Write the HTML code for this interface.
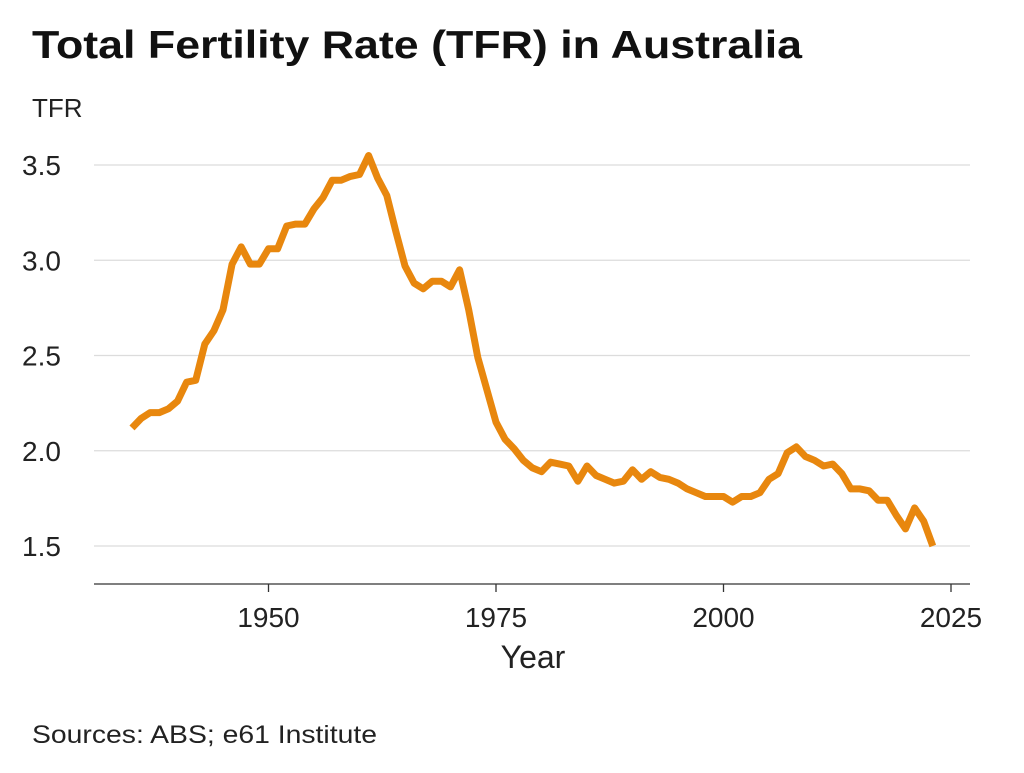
<!DOCTYPE html>
<html><head><meta charset="utf-8"><style>
body{margin:0;background:#fff;width:1024px;height:768px;overflow:hidden;font-family:"Liberation Sans","DejaVu Sans",sans-serif;}
</style></head><body>
<svg id="chart" width="1024" height="768" xmlns="http://www.w3.org/2000/svg" font-family="Liberation Sans, DejaVu Sans, sans-serif">
<text x="32" y="58" font-size="39" font-weight="bold" fill="#111" textLength="770" lengthAdjust="spacingAndGlyphs">Total Fertility Rate (TFR) in Australia</text>
<text x="32" y="117" font-size="26" fill="#222">TFR</text>
<text x="533" y="668" font-size="32" fill="#222" text-anchor="middle">Year</text>
<text x="32" y="743" font-size="25" fill="#222" textLength="345" lengthAdjust="spacingAndGlyphs">Sources: ABS; e61 Institute</text>
<g id="grid"></g><g id="axes"></g><g id="series"></g>
</svg>
<script>
const years=[];for(let y=1935;y<=2023;y++)years.push(y);
const tfr=[2.12,2.17,2.20,2.20,2.22,2.26,2.36,2.37,2.56,2.63,2.74,2.98,3.07,2.98,2.98,3.06,3.06,3.18,3.19,3.19,3.27,3.33,3.42,3.42,3.44,3.45,3.55,3.43,3.34,3.15,2.97,2.88,2.85,2.89,2.89,2.86,2.95,2.74,2.49,2.32,2.15,2.06,2.01,1.95,1.91,1.89,1.94,1.93,1.92,1.84,1.92,1.87,1.85,1.83,1.84,1.90,1.85,1.89,1.86,1.85,1.83,1.80,1.78,1.76,1.76,1.76,1.73,1.76,1.76,1.78,1.85,1.88,1.99,2.02,1.97,1.95,1.92,1.93,1.88,1.80,1.80,1.79,1.74,1.74,1.66,1.59,1.70,1.63,1.50];
const yTicks=[1.5,2.0,2.5,3.0,3.5];
const yTickLabels=["1.5","2.0","2.5","3.0","3.5"];
const xTicks=[1950,1975,2000,2025];
const xTickLabels=["1950","1975","2000","2025"];
const NS="http://www.w3.org/2000/svg";
const xs=y=>268.5+(y-1950)*9.1;
const ys=v=>546-(v-1.5)*190.5;
function mk(tag,attrs,parent){const e=document.createElementNS(NS,tag);for(const k in attrs)e.setAttribute(k,attrs[k]);document.getElementById(parent).appendChild(e);return e;}
yTicks.forEach((t,i)=>{
  const l=mk('line',{x1:94,x2:970,y1:ys(t),y2:ys(t),stroke:'#dcdcdc','stroke-width':1.3},'grid');
  
  
  const tx=mk('text',{x:22,y:ys(t)+10,'font-size':28,fill:'#222'},'axes');tx.textContent=yTickLabels[i];
  
  
});
const ax=mk('line',{x1:94,x2:970,y1:584,y2:584,stroke:'#333','stroke-width':1.3},'axes');


xTicks.forEach((t,i)=>{
  const tk=mk('line',{x1:xs(t),x2:xs(t),y1:584,y2:592,stroke:'#333','stroke-width':1.3},'axes');
  
  
  const tx=mk('text',{x:xs(t),y:627,'font-size':28,fill:'#222','text-anchor':'middle'},'axes');tx.textContent=xTickLabels[i];
  
  
});
const d=years.map((y,i)=>(i?'L':'M')+xs(y).toFixed(1)+' '+ys(tfr[i]).toFixed(1)).join(' ');
const p=mk('path',{d:d,fill:'none',stroke:'#e8870e','stroke-width':7,'stroke-linejoin':'round'},'series');


</script>
</body></html>
